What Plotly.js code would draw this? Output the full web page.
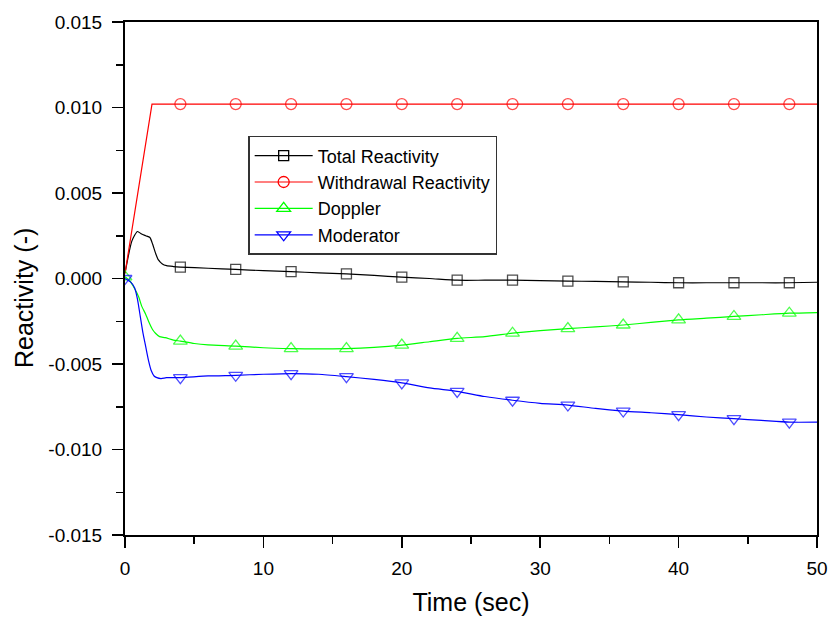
<!DOCTYPE html>
<html>
<head>
<meta charset="utf-8">
<script src="https://cdn.plot.ly/plotly-3.0.1.min.js"></script>
<style>html,body{margin:0;padding:0;background:#fff;}#chart{width:832px;height:619px;}</style>
</head>
<body>
<div id="chart"></div>
<script>
// ---- data ----
const seriesNames = ["Total Reactivity", "Withdrawal Reactivity", "Doppler", "Moderator"];
const markerTimes = [4, 8, 12, 16, 20, 24, 28, 32, 36, 40, 44, 48];

const totalTime = [0, 0.5, 0.9, 1.2, 1.5, 1.8, 2.0, 2.2, 2.4, 2.7, 3.0, 3.5, 4, 6, 8, 10, 12, 14, 16, 18, 20, 22, 24, 26, 28, 30, 32, 34, 36, 38, 40, 42, 44, 46, 48, 50];
const totalVal = [0.0003, 0.0022, 0.00275, 0.0026, 0.0025, 0.0024, 0.0020, 0.0015, 0.0011, 0.00085, 0.00075, 0.0007, 0.00067, 0.0006, 0.00053, 0.00046, 0.0004, 0.00033, 0.00027, 0.00018, 0.00008, 0.0, -0.0001, -0.0001, -0.0001, -0.00012, -0.00015, -0.00017, -0.0002, -0.00022, -0.00025, -0.00025, -0.00025, -0.00025, -0.00025, -0.00022];

const withdrawalTime = [0, 1.95, 4, 6, 8, 10, 12, 14, 16, 18, 20, 22, 24, 26, 28, 30, 32, 34, 36, 38, 40, 42, 44, 46, 48, 50];
const withdrawalVal = [0.0003, 0.0102, 0.0102, 0.0102, 0.0102, 0.0102, 0.0102, 0.0102, 0.0102, 0.0102, 0.0102, 0.0102, 0.0102, 0.0102, 0.0102, 0.0102, 0.0102, 0.0102, 0.0102, 0.0102, 0.0102, 0.0102, 0.0102, 0.0102, 0.0102, 0.0102];

const dopplerTime = [0, 0.3, 0.7, 1.0, 1.2, 1.5, 1.7, 2.0, 2.2, 2.5, 2.9, 3.5, 4, 5, 6, 8, 10, 12, 14, 16, 18, 20, 22, 24, 26, 28, 30, 32, 34, 36, 38, 40, 42, 44, 46, 48, 50];
const dopplerVal = [0.0001, -0.0001, -0.0006, -0.0011, -0.0016, -0.0021, -0.0025, -0.0030, -0.0032, -0.0034, -0.00346, -0.0036, -0.00366, -0.0038, -0.00388, -0.00395, -0.00405, -0.0041, -0.00412, -0.0041, -0.00403, -0.0039, -0.0037, -0.0035, -0.0034, -0.0032, -0.00305, -0.00293, -0.00283, -0.00272, -0.00257, -0.00242, -0.00232, -0.00222, -0.00212, -0.00203, -0.00199];

const moderatorTime = [0, 0.4, 0.7, 0.9, 1.1, 1.3, 1.5, 1.7, 1.9, 2.1, 2.3, 2.6, 3, 3.5, 4, 6, 8, 10, 12, 14, 16, 18, 20, 22, 24, 26, 28, 30, 32, 34, 36, 38, 40, 42, 44, 46, 48, 50];
const moderatorVal = [0, -0.0002, -0.00055, -0.0012, -0.0022, -0.0032, -0.0040, -0.0048, -0.0054, -0.0057, -0.0058, -0.00585, -0.0058, -0.0058, -0.0058, -0.0057, -0.00566, -0.0056, -0.00556, -0.0056, -0.00574, -0.0059, -0.0061, -0.0064, -0.0066, -0.0069, -0.00712, -0.0073, -0.0074, -0.0076, -0.00775, -0.00785, -0.00796, -0.0081, -0.0082, -0.0083, -0.0084, -0.0084];

const yTickVals = [-0.015, -0.010, -0.005, 0.000, 0.005, 0.010, 0.015];
const yTickText = ["-0.015", "-0.010", "-0.005", "0.000", "0.005", "0.010", "0.015"];
const xTickVals = [0, 10, 20, 30, 40, 50];
const xTickText = ["0", "10", "20", "30", "40", "50"];

// ---- build ----
const colors = ["#000000", "#ff0000", "#00ff00", "#0000ff"];
const symbols = ["square-open", "circle-open", "triangle-up-open", "triangle-down-open"];
const shapes = ["spline", "linear", "spline", "spline"];
const mSizes = [10, 11, 12, 12];
const includeZero = [false, false, true, true];
const times = [totalTime, withdrawalTime, dopplerTime, moderatorTime];
const vals = [totalVal, withdrawalVal, dopplerVal, moderatorVal];

const traces = [];
for (let i = 0; i < 4; i++) {
  const sizes = times[i].map(t => (markerTimes.includes(t) || (includeZero[i] && t === 0)) ? mSizes[i] : 0);
  traces.push({
    x: times[i], y: vals[i], mode: "lines+markers", showlegend: false,
    line: {color: colors[i], width: 1.2, shape: shapes[i], smoothing: 0.6},
    marker: {symbol: symbols[i], size: sizes, color: colors[i], line: {width: 1.3, color: colors[i]}},
    hoverinfo: "skip"
  });
}
for (let i = 0; i < 4; i++) {
  traces.push({
    x: [null], y: [null], mode: "lines+markers", name: seriesNames[i],
    line: {color: colors[i], width: 1.2},
    marker: {symbol: symbols[i], size: mSizes[i], color: colors[i], line: {width: 1.3, color: colors[i]}}
  });
}

const layout = {
  width: 832, height: 619,
  margin: {l: 125, r: 15, t: 22, b: 84},
  paper_bgcolor: "#fff", plot_bgcolor: "#fff",
  font: {family: "Liberation Sans, Arial, sans-serif", color: "#000"},
  showlegend: true,
  legend: {
    x: 0.178, y: 0.778, xanchor: "left", yanchor: "top",
    bordercolor: "#333", borderwidth: 1.5, bgcolor: "#fff",
    font: {size: 18, family: "Liberation Sans, Arial, sans-serif"},
    tracegroupgap: 0, itemwidth: 58
  },
  xaxis: {
    range: [0, 50], tickvals: xTickVals, ticktext: xTickText,
    ticks: "outside", ticklen: 11, tickwidth: 1.5, tickcolor: "#000",
    showline: true, linecolor: "#000", linewidth: 2, mirror: true,
    showgrid: false, zeroline: false,
    tickfont: {size: 19}, ticklabelstandoff: 4,
    minor: {dtick: 5, tick0: 0, ticks: "outside", ticklen: 7, tickwidth: 1.5, tickcolor: "#000", showgrid: false},
    title: {text: "Time (sec)", font: {size: 25}, standoff: 16}
  },
  yaxis: {
    range: [-0.015, 0.015], tickvals: yTickVals, ticktext: yTickText,
    ticks: "outside", ticklen: 11, tickwidth: 1.5, tickcolor: "#000",
    showline: true, linecolor: "#000", linewidth: 2, mirror: true,
    showgrid: false, zeroline: false,
    tickfont: {size: 19}, ticklabelstandoff: 6,
    minor: {dtick: 0.0025, tick0: 0, ticks: "outside", ticklen: 7, tickwidth: 1.5, tickcolor: "#000", showgrid: false}
  },
  annotations: [{
    text: "Reactivity (-)", textangle: -90, showarrow: false,
    xref: "paper", yref: "paper", x: 0, y: 0.462, xanchor: "center", yanchor: "middle",
    xshift: -101, font: {size: 25, family: "Liberation Sans, Arial, sans-serif", color: "#000"}
  }]
};

Plotly.newPlot("chart", traces, layout, {staticPlot: true, displayModeBar: false});
</script>
</body>
</html>
